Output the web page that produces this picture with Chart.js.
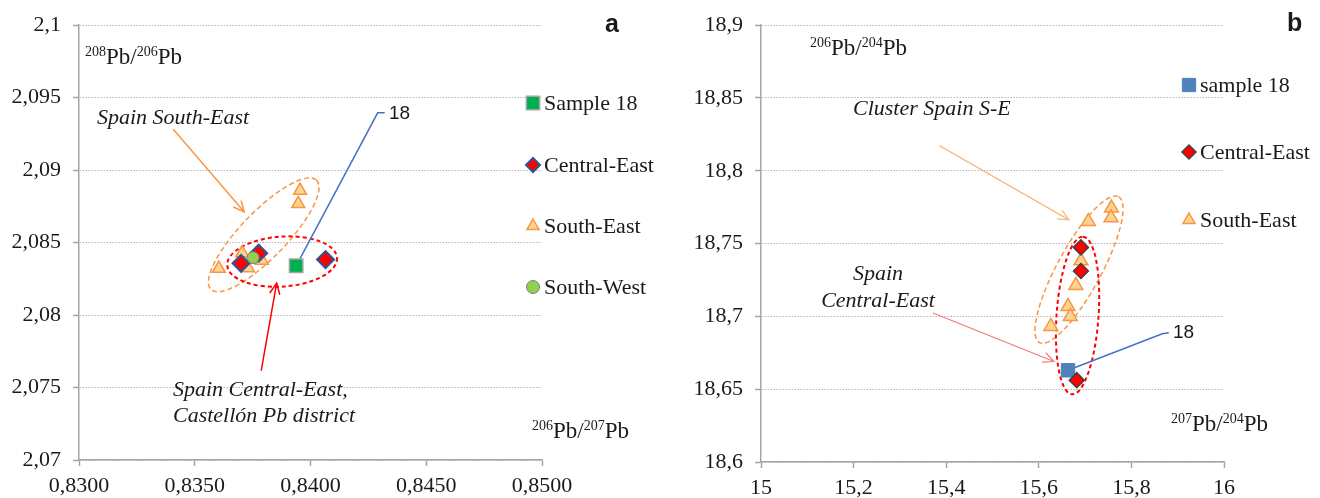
<!DOCTYPE html>
<html>
<head>
<meta charset="utf-8">
<title>Pb isotope ratios - sample 18</title>
<script src="https://cdn.jsdelivr.net/npm/chart.js@4.4.1/dist/chart.umd.min.js"></script>
<style>
    body { margin: 0; background: #fff; }
    .wrap { display: flex; width: 1320px; height: 498px; }
    .panel { width: 660px; height: 498px; }
</style>
</head>
<body>
<div class="wrap">
    <div class="panel"><canvas id="chart-a" width="660" height="498"></canvas></div>
    <div class="panel"><canvas id="chart-b" width="660" height="498"></canvas></div>
</div>
<script>
// Panel a: 206Pb/207Pb (x) vs 208Pb/206Pb (y)
const sampleAX = [0.83938];
const sampleAY = [2.08340];
const centralEastAX = [0.84065, 0.83700, 0.83776];
const centralEastAY = [2.08383, 2.08357, 2.08427];
const southEastAX = [0.83955, 0.83947, 0.83604, 0.83705, 0.83730, 0.83790];
const southEastAY = [2.08859, 2.08768, 2.08321, 2.08428, 2.08325, 2.08376];
const southWestAX = [0.83752];
const southWestAY = [2.08396];

const xTicksA = [0.830, 0.835, 0.840, 0.845, 0.850];
const xLabelsA = ['0,8300', '0,8350', '0,8400', '0,8450', '0,8500'];
const yTicksA = [2.070, 2.075, 2.080, 2.085, 2.090, 2.095, 2.100];
const yLabelsA = ['2,07', '2,075', '2,08', '2,085', '2,09', '2,095', '2,1'];

// Panel b: 207Pb/204Pb (x) vs 206Pb/204Pb (y)
const sampleBX = [15.663];
const sampleBY = [18.663];
const centralEastBX = [15.682, 15.691, 15.691];
const centralEastBY = [18.6562, 18.7474, 18.7312];
const southEastBX = [15.757, 15.756, 15.707, 15.691, 15.680, 15.663, 15.668, 15.626];
const southEastBY = [18.7744, 18.7677, 18.7652, 18.7382, 18.7213, 18.7068, 18.7000, 18.6931];

const xTicksB = [15, 15.2, 15.4, 15.6, 15.8, 16];
const xLabelsB = ['15', '15,2', '15,4', '15,6', '15,8', '16'];
const yTicksB = [18.6, 18.65, 18.7, 18.75, 18.8, 18.85, 18.9];
const yLabelsB = ['18,6', '18,65', '18,7', '18,75', '18,8', '18,85', '18,9'];

const SERIF = '"Liberation Serif", "Times New Roman", serif';
const SANS = '"Liberation Sans", Arial, sans-serif';
const AXIS_GREY = '#a6a6a6';
const TEXT = '#1a1a1a';

function zip(xs, ys) {
    return xs.map((x, i) => ({ x: x, y: ys[i] }));
}

// annotazioni disegnate sopra/sotto i punti
const overlays = {
    'chart-a': {
        ellipses: [
            { x: 0.837978, y: 2.085537, rx: 76, ry: 23, rot: -46, color: '#f79646', width: 1.5, dash: [5, 3] },
            { x: 0.838774, y: 2.083689, rx: 55, ry: 25, rot: -4, color: '#ff0000', width: 2, dash: [4, 3] }
        ],
        lines: [
            { pts: [[0.834073, 2.092813], [0.837140, 2.087112]], color: '#f79646', width: 1.5, arrow: true },
            { pts: [[0.837871, 2.076160], [0.838538, 2.082204]], color: '#ff0000', width: 1.5, arrow: true },
            { pts: [[sampleAX[0], sampleAY[0]], [0.842903, 2.093956], [0.843204, 2.093956]], color: '#4472c4', width: 1.5 }
        ],
        texts: [
            { t: 'Spain South-East', x: 97, y: 124, font: 'italic 22px ' + SERIF },
            { t: 'Spain Central-East,', x: 173, y: 396, font: 'italic 22px ' + SERIF },
            { t: 'Castellón Pb district', x: 173, y: 422, font: 'italic 22px ' + SERIF },
            { t: '18', x: 389, y: 119, font: '19px ' + SANS },
            { t: 'a', x: 605, y: 32, font: 'bold 25px ' + SANS }
        ],
        iso: [
            { parts: [['208', 1], ['Pb/', 0], ['206', 1], ['Pb', 0]], x: 85, y: 64 },
            { parts: [['206', 1], ['Pb/', 0], ['207', 1], ['Pb', 0]], x: 532, y: 438 }
        ],
        legend: { x: 533, textX: 544, ys: [103, 165, 226, 287] }
    },
    'chart-b': {
        ellipses: [
            { x: 15.6869, y: 18.7321, rx: 83, ry: 22, rot: -61.5, color: '#f79646', width: 1.5, dash: [5, 3] },
            { x: 15.6837, y: 18.7006, rx: 79, ry: 21, rot: -86, color: '#ff0000', width: 2, dash: [4, 3] }
        ],
        lines: [
            { pts: [[15.3854, 18.8173], [15.6651, 18.7663]], color: '#f9b880', width: 1.2, arrow: true },
            { pts: [[15.3715, 18.7023], [15.6328, 18.6690]], color: '#f27a7a', width: 1.2, arrow: true },
            { pts: [[sampleBX[0], sampleBY[0]], [15.8666, 18.6881], [15.8807, 18.6888]], color: '#4472c4', width: 1.5 }
        ],
        texts: [
            { t: 'Cluster Spain S-E', x: 193, y: 115, font: 'italic 22px ' + SERIF },
            { t: 'Spain', x: 218, y: 280, font: 'italic 22px ' + SERIF, align: 'center' },
            { t: 'Central-East', x: 218, y: 307, font: 'italic 22px ' + SERIF, align: 'center' },
            { t: '18', x: 513, y: 338, font: '19px ' + SANS },
            { t: 'b', x: 627, y: 31, font: 'bold 25px ' + SANS }
        ],
        iso: [
            { parts: [['206', 1], ['Pb/', 0], ['204', 1], ['Pb', 0]], x: 150, y: 55 },
            { parts: [['207', 1], ['Pb/', 0], ['204', 1], ['Pb', 0]], x: 511, y: 431 }
        ],
        legend: { x: 529, textX: 540, ys: [85, 152, 220] }
    }
};

function drawMarker(ctx, style, cx, cy, r, fill, stroke, bw) {
    ctx.beginPath();
    if (style === 'rect') {
        const h = r * Math.SQRT1_2;
        ctx.rect(cx - h, cy - h, 2 * h, 2 * h);
    } else if (style === 'rectRot') {
        ctx.moveTo(cx - r, cy);
        ctx.lineTo(cx, cy - r);
        ctx.lineTo(cx + r, cy);
        ctx.lineTo(cx, cy + r);
        ctx.closePath();
    } else if (style === 'triangle') {
        ctx.moveTo(cx, cy - r);
        ctx.lineTo(cx + 0.866 * r, cy + 0.5 * r);
        ctx.lineTo(cx - 0.866 * r, cy + 0.5 * r);
        ctx.closePath();
    } else {
        ctx.arc(cx, cy, r, 0, Math.PI * 2);
    }
    ctx.fillStyle = fill;
    ctx.fill();
    if (bw) {
        ctx.lineWidth = bw;
        ctx.strokeStyle = stroke;
        ctx.stroke();
    }
}

const overlayPlugin = {
    id: 'overlay',
    beforeDatasetsDraw(chart) {
        const ov = overlays[chart.canvas.id];
        const { ctx } = chart;
        const sx = chart.scales.x, sy = chart.scales.y;
        ctx.save();
        ov.ellipses.forEach(e => {
            ctx.beginPath();
            ctx.ellipse(sx.getPixelForValue(e.x), sy.getPixelForValue(e.y), e.rx, e.ry, e.rot * Math.PI / 180, 0, Math.PI * 2);
            ctx.setLineDash(e.dash);
            ctx.lineWidth = e.width;
            ctx.strokeStyle = e.color;
            ctx.stroke();
        });
        ctx.setLineDash([]);
        ov.lines.forEach(l => {
            const p = l.pts.map(q => [sx.getPixelForValue(q[0]), sy.getPixelForValue(q[1])]);
            ctx.strokeStyle = l.color;
            ctx.lineWidth = l.width;
            ctx.beginPath();
            ctx.moveTo(p[0][0], p[0][1]);
            for (let i = 1; i < p.length; i++) ctx.lineTo(p[i][0], p[i][1]);
            ctx.stroke();
            if (l.arrow) {
                // punta a V aperta
                const a = p[p.length - 2], b = p[p.length - 1];
                const ang = Math.atan2(b[1] - a[1], b[0] - a[0]);
                const len = 12, spread = 25 * Math.PI / 180;
                ctx.beginPath();
                ctx.moveTo(b[0] - len * Math.cos(ang - spread), b[1] - len * Math.sin(ang - spread));
                ctx.lineTo(b[0], b[1]);
                ctx.lineTo(b[0] - len * Math.cos(ang + spread), b[1] - len * Math.sin(ang + spread));
                ctx.stroke();
            }
        });
        ctx.restore();
    },
    afterDraw(chart) {
        const ov = overlays[chart.canvas.id];
        const { ctx } = chart;
        ctx.save();
        ctx.fillStyle = TEXT;
        ctx.textBaseline = 'alphabetic';
        ov.texts.forEach(t => {
            ctx.font = t.font;
            ctx.textAlign = t.align || 'left';
            ctx.fillText(t.t, t.x, t.y);
        });
        ctx.textAlign = 'left';
        ov.iso.forEach(lbl => {
            let cx = lbl.x;
            lbl.parts.forEach(([txt, sup]) => {
                ctx.font = sup ? '14px ' + SERIF : '23px ' + SERIF;
                ctx.fillText(txt, cx, sup ? lbl.y - 8 : lbl.y);
                cx += ctx.measureText(txt).width;
            });
        });
        // legenda manuale, nell'ordine originale
        const lg = ov.legend;
        chart.data.datasets.forEach(ds => {
            const y = lg.ys[ds.legendIndex];
            drawMarker(ctx, ds.pointStyle, lg.x, y, ds.legendRadius, ds.backgroundColor, ds.borderColor, ds.borderWidth);
            ctx.fillStyle = TEXT;
            ctx.font = '22px ' + SERIF;
            ctx.textBaseline = 'middle';
            ctx.fillText(ds.label, lg.textX, y + 1);
            ctx.textBaseline = 'alphabetic';
        });
        ctx.restore();
    }
};

function makeScales(xTicks, xLabels, yTicks, yLabels, yWidth, xHeight) {
    const tickFont = { family: SERIF, size: 22 };
    return {
        x: {
            type: 'linear',
            min: xTicks[0],
            max: xTicks[xTicks.length - 1],
            afterBuildTicks: s => { s.ticks = xTicks.map(v => ({ value: v })); },
            afterFit: s => { s.height = xHeight; },
            ticks: {
                autoSkip: false,
                maxRotation: 0,
                padding: 7,
                color: TEXT,
                font: tickFont,
                callback: (v, i) => xLabels[i]
            },
            grid: {
                drawOnChartArea: false,
                drawTicks: true,
                tickLength: 6,
                tickColor: AXIS_GREY,
                tickWidth: 1.5
            },
            border: { display: true, color: AXIS_GREY, width: 1.5 }
        },
        y: {
            type: 'linear',
            min: yTicks[0],
            max: yTicks[yTicks.length - 1],
            afterBuildTicks: s => { s.ticks = yTicks.map(v => ({ value: v })); },
            afterFit: s => { s.width = yWidth; },
            ticks: {
                autoSkip: false,
                padding: 12,
                color: TEXT,
                font: tickFont,
                callback: (v, i) => yLabels[i]
            },
            grid: {
                color: '#b4b4b4',
                lineWidth: 1,
                drawTicks: true,
                tickLength: 6,
                tickColor: AXIS_GREY,
                tickWidth: 1.5,
                tickBorderDash: []
            },
            border: { display: true, color: AXIS_GREY, width: 1.5, dash: [1.5, 1.5] }
        }
    };
}

function baseOptions(scales, padding) {
    return {
        responsive: false,
        animation: false,
        devicePixelRatio: 1,
        events: [],
        layout: { padding: padding },
        plugins: {
            legend: { display: false },
            tooltip: { enabled: false }
        },
        scales: scales
    };
}

new Chart(document.getElementById('chart-a'), {
    type: 'scatter',
    data: {
        datasets: [
            {
                label: 'Sample 18', legendIndex: 0, order: 0, legendRadius: 9.4,
                data: zip(sampleAX, sampleAY),
                pointStyle: 'rect', pointRadius: 9.5,
                backgroundColor: '#00b050', borderColor: '#a5a5a5', borderWidth: 1.5
            },
            {
                label: 'Central-East', legendIndex: 1, order: 2, legendRadius: 7,
                data: zip(centralEastAX, centralEastAY),
                pointStyle: 'rectRot', pointRadius: 8.5,
                backgroundColor: '#ff0000', borderColor: '#2f5597', borderWidth: 2
            },
            {
                label: 'South-East', legendIndex: 2, order: 3, legendRadius: 7,
                data: zip(southEastAX, southEastAY),
                pointStyle: 'triangle', pointRadius: 7.5,
                backgroundColor: '#fdd38f', borderColor: '#f79646', borderWidth: 1.5
            },
            {
                label: 'South-West', legendIndex: 3, order: 1, legendRadius: 6.5,
                data: zip(southWestAX, southWestAY),
                pointStyle: 'circle', pointRadius: 6,
                backgroundColor: '#92d050', borderColor: '#7f7f7f', borderWidth: 1
            }
        ]
    },
    options: baseOptions(makeScales(xTicksA, xLabelsA, yTicksA, yLabelsA, 79, 38), { top: 22, right: 118, bottom: 0, left: 0 }),
    plugins: [overlayPlugin]
});

new Chart(document.getElementById('chart-b'), {
    type: 'scatter',
    data: {
        datasets: [
            {
                label: 'sample 18', legendIndex: 0, order: 1, legendRadius: 9.4,
                data: zip(sampleBX, sampleBY),
                pointStyle: 'rect', pointRadius: 9.5,
                backgroundColor: '#4f81bd', borderColor: '#4f81bd', borderWidth: 1
            },
            {
                label: 'Central-East', legendIndex: 1, order: 0, legendRadius: 7,
                data: zip(centralEastBX, centralEastBY),
                pointStyle: 'rectRot', pointRadius: 7.5,
                backgroundColor: '#ff0000', borderColor: '#404040', borderWidth: 1.5
            },
            {
                label: 'South-East', legendIndex: 2, order: 2, legendRadius: 7,
                data: zip(southEastBX, southEastBY),
                pointStyle: 'triangle', pointRadius: 8,
                backgroundColor: '#fdd38f', borderColor: '#f79646', borderWidth: 1.5
            }
        ]
    },
    options: baseOptions(makeScales(xTicksB, xLabelsB, yTicksB, yLabelsB, 101, 36), { top: 17, right: 96, bottom: 0, left: 0 }),
    plugins: [overlayPlugin]
});
</script>
</body>
</html>
